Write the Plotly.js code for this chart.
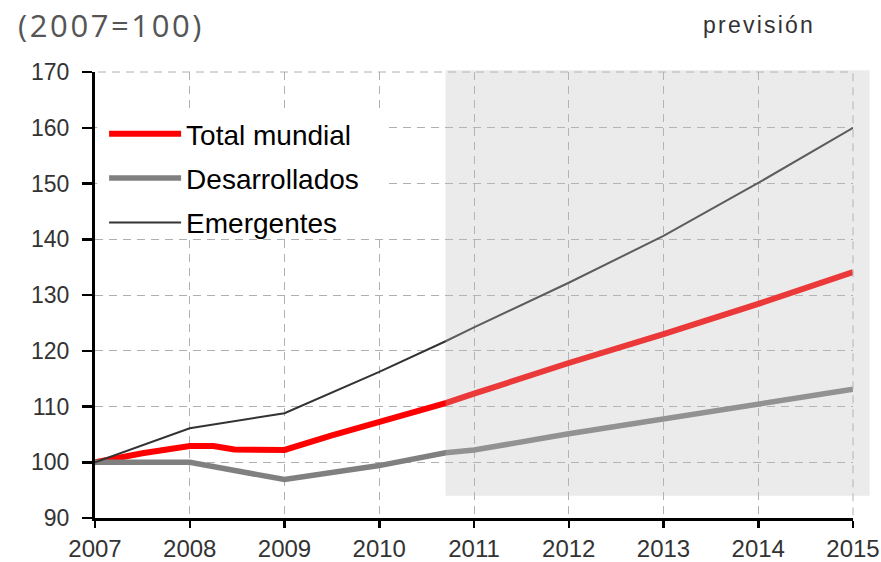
<!DOCTYPE html>
<html>
<head>
<meta charset="utf-8">
<script src="https://cdn.plot.ly/plotly-3.0.1.min.js"></script>
<style>
html,body{margin:0;padding:0;background:#fff;}
#chart{width:881px;height:562px;}
.annotation[data-index="0"] text{letter-spacing:2.6px;}
.annotation[data-index="1"] text{letter-spacing:2.2px;}
</style>
</head>
<body>
<div id="chart"></div>
<script>
// ---- data ----
var totalYears = [2007, 2007.5, 2008, 2008.25, 2008.47, 2009, 2009.5, 2010, 2010.7, 2011, 2012, 2013, 2014, 2015];
var totalValues = [100, 101.6, 102.9, 102.9, 102.3, 102.2, 104.8, 107.2, 110.6, 112.3, 117.8, 123.0, 128.4, 134.1];

var devYears = [2007, 2008, 2009, 2010, 2010.7, 2011, 2012, 2013, 2014, 2015];
var devValues = [100, 100, 96.9, 99.4, 101.7, 102.2, 105.1, 107.8, 110.4, 113.1];

var emYears = [2007, 2008, 2009, 2010, 2010.7, 2011, 2012, 2013, 2014, 2015];
var emValues = [100, 106.1, 108.8, 116.2, 121.7, 124.2, 132.2, 140.6, 150.1, 160.0];

var seriesNames = ['Total mundial', 'Desarrollados', 'Emergentes'];
var xTicks = [2007, 2008, 2009, 2010, 2011, 2012, 2013, 2014, 2015];
var yTicks = [90, 100, 110, 120, 130, 140, 150, 160, 170];
var forecastStart = 2010.7;
var unitLabel = '(2007=100)';
var forecastLabel = 'previsión';

var xRange = [2007, 2015];
var yRange = [90, 170];
function xFrac(v) { return (v - xRange[0]) / (xRange[1] - xRange[0]); }

var gridColor = '#b0b0b0';
var gridDash = '8px,6px';

var traces = [
  {x: totalYears, y: totalValues, name: seriesNames[0], mode: 'lines', legendgroup: 'a',
   line: {color: '#ff0000', width: 6}},
  {x: devYears, y: devValues, name: seriesNames[1], mode: 'lines', legendgroup: 'b',
   line: {color: '#808080', width: 5.5}},
  {x: emYears, y: emValues, name: seriesNames[2], mode: 'lines', legendgroup: 'c',
   line: {color: '#333333', width: 2}}
];

var layout = {
  width: 881, height: 562,
  margin: {l: 95, r: 28, t: 72, b: 44},
  paper_bgcolor: '#fff', plot_bgcolor: '#fff',
  font: {family: 'Liberation Sans, Arial, sans-serif', color: '#333'},
  showlegend: true,
  legend: {
    x: 0.012, y: 0.917, xanchor: 'left', yanchor: 'top',
    bgcolor: 'rgba(255,255,255,0)', borderwidth: 0,
    font: {size: 28, color: '#000', family: 'Liberation Sans, Arial, sans-serif'},
    itemwidth: 72, tracegroupgap: 5
  },
  xaxis: {
    range: xRange, tickvals: xTicks, ticktext: xTicks.map(String),
    showline: true, linecolor: '#000', linewidth: 3,
    ticks: 'outside', ticklen: 7, tickwidth: 2.5, tickcolor: '#000',
    tickfont: {size: 24, color: '#333'},
    showgrid: true, gridcolor: gridColor, gridwidth: 1, griddash: gridDash,
    zeroline: false, fixedrange: true
  },
  yaxis: {
    range: yRange, tickvals: yTicks,
    showline: true, linecolor: '#000', linewidth: 3,
    ticks: 'outside', ticklen: 10, tickwidth: 2.5, tickcolor: '#000',
    tickfont: {size: 23, color: '#333'}, ticklabelstandoff: 8,
    showgrid: true, gridcolor: gridColor, gridwidth: 1, griddash: gridDash,
    zeroline: false, fixedrange: true
  },
  shapes: [
    // legend background (hides gridlines behind the legend)
    {type: 'rect', layer: 'above', xref: 'paper', yref: 'paper',
     x0: 0.003, x1: 0.383, y0: 0.628, y1: 0.91,
     fillcolor: '#ffffff', line: {width: 0}},
    // gridlines at the range edges (top and right)
    {type: 'line', layer: 'above', xref: 'paper', yref: 'paper',
     x0: 0.004, x1: 1, y0: 1, y1: 1,
     line: {color: gridColor, width: 1, dash: gridDash}},
    {type: 'line', layer: 'above', xref: 'paper', yref: 'paper',
     x0: 1, x1: 1, y0: 0.006, y1: 1,
     line: {color: gridColor, width: 1, dash: gridDash}},
    // forecast shading
    {type: 'rect', layer: 'above', xref: 'paper', yref: 'paper',
     x0: xFrac(forecastStart), x1: 1.022, y0: 0.05, y1: 1.004,
     fillcolor: 'rgba(190,190,190,0.3)', line: {width: 0}}
  ],
  annotations: [
    {text: unitLabel, xref: 'paper', yref: 'paper', x: -0.087, y: 1.105,
     xanchor: 'left', yanchor: 'middle', showarrow: false,
     font: {family: 'Open Sans, sans-serif', size: 31, color: '#555'}},
    {text: forecastLabel, xref: 'paper', yref: 'paper', x: 0.813, y: 1.105,
     xanchor: 'left', yanchor: 'middle', showarrow: false,
     font: {family: 'Liberation Sans, Arial, sans-serif', size: 23, color: '#333'}}
  ]
};

Plotly.newPlot('chart', traces, layout, {displayModeBar: false, staticPlot: true});
</script>
</body>
</html>
